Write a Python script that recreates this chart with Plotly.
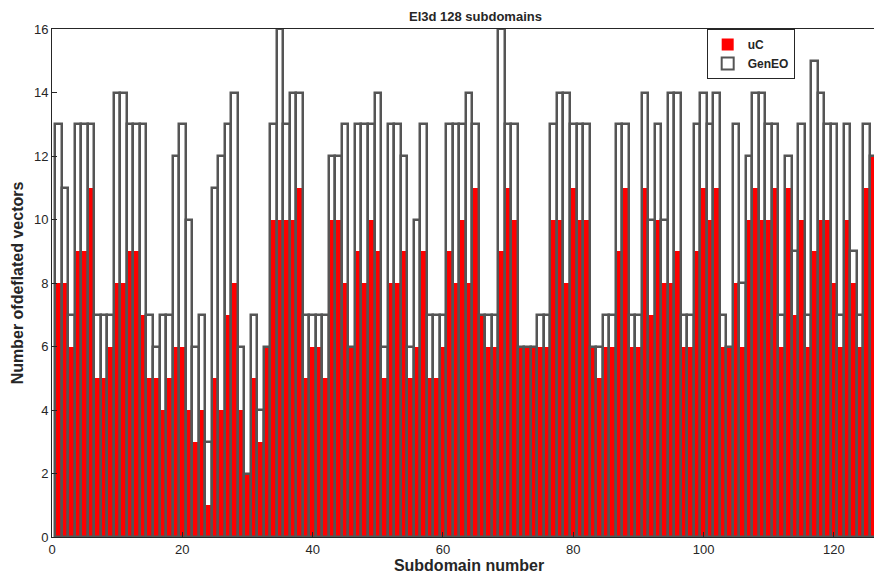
import plotly.graph_objects as go

subdomains = list(range(1, 129))

geneo = [13, 11, 7, 13, 13, 13, 7, 7, 7, 14, 14, 13, 13, 13, 7, 6, 7, 7, 12, 13, 10, 6,
         7, 3, 11, 12, 13, 14, 6, 2, 7, 4, 6, 13, 16, 13, 14, 14, 7, 7, 7, 7, 12, 12, 13,
         6, 13, 13, 13, 14, 6, 13, 13, 12, 6, 10, 13, 7, 7, 7, 13, 13, 13, 14, 13, 7,
         7, 7, 16, 13, 13, 6, 6, 6, 7, 7, 13, 14, 14, 13, 13, 13, 6, 6, 7, 7, 13, 13, 7,
         7, 14, 10, 13, 10, 14, 14, 7, 7, 13, 14, 13, 14, 7, 6, 13, 8, 12, 14, 14, 13, 13, 7,
         12, 9, 13, 7, 15, 14, 13, 13, 7, 13, 9, 7, 13, 12, 7, 7]

uc = [8, 8, 6, 9, 9, 11, 5, 5, 6, 8, 8, 9, 9, 7, 5, 5, 4, 5, 6, 6, 4, 3,
      4, 1, 5, 4, 7, 8, 4, 2, 5, 3, 6, 10, 10, 10, 10, 11, 5, 6, 6, 5, 10, 10, 8,
      6, 9, 8, 10, 9, 5, 8, 8, 9, 5, 6, 9, 5, 5, 6, 9, 8, 10, 8, 11, 7,
      6, 6, 9, 11, 10, 6, 6, 6, 6, 6, 10, 10, 8, 11, 10, 10, 6, 5, 6, 6, 9, 11, 6,
      6, 11, 7, 10, 8, 8, 9, 6, 6, 9, 11, 10, 11, 6, 6, 8, 6, 10, 11, 10, 10, 11, 6,
      11, 7, 10, 6, 9, 10, 10, 8, 6, 10, 8, 6, 11, 12, 6, 6]

font = dict(family="Liberation Sans, Arial, sans-serif", size=13, color="#262626")
edge = "#555555"

fig = go.Figure()
fig.add_trace(go.Bar(x=subdomains, y=uc, name="<b>uC</b>", width=1,
                     marker=dict(color="#ff0000", line=dict(width=0))))
fig.add_trace(go.Bar(x=subdomains, y=geneo, name="<b>GenEO</b>", width=1,
                     marker=dict(color="rgba(255,255,255,0)", line=dict(color=edge, width=2.5))))

axis = dict(showline=True, linecolor="#262626", linewidth=1, mirror=True, ticks="inside",
            ticklen=5, tickcolor="#262626", showgrid=False, zeroline=False, automargin=False,
            tickfont=dict(size=13, color="#262626"))

# page body adds an 8px offset, so margins are shifted to compensate
fig.update_layout(
    width=882, height=583,
    margin=dict(l=44, r=4, t=21, b=54),
    paper_bgcolor="white", plot_bgcolor="white",
    font=font, barmode="overlay", bargap=0,
    title=dict(text="<b>El3d 128 subdomains</b>", x=0.53, xanchor="center", y=0.993,
               yanchor="top", font=dict(size=13)),
    xaxis=dict(range=[0, 128], tickvals=[0, 20, 40, 60, 80, 100, 120],
               title=dict(text="<b>Subdomain number</b>", standoff=4), **axis),
    yaxis=dict(range=[0, 16], tickvals=list(range(0, 17, 2)),
               title=dict(text="<b>Number ofdeflated vectors</b>", standoff=6), **axis),
    legend=dict(x=0.785, y=1.0, xanchor="left", yanchor="top", bgcolor="white",
                bordercolor="#262626", borderwidth=1, font=dict(size=12),
                tracegroupgap=0, itemsizing="constant"),
)
fig.update_xaxes(tickprefix="<b>", ticksuffix="</b>")
fig.update_yaxes(tickprefix="<b>", ticksuffix="</b>")

fig.write_html("out.html")
